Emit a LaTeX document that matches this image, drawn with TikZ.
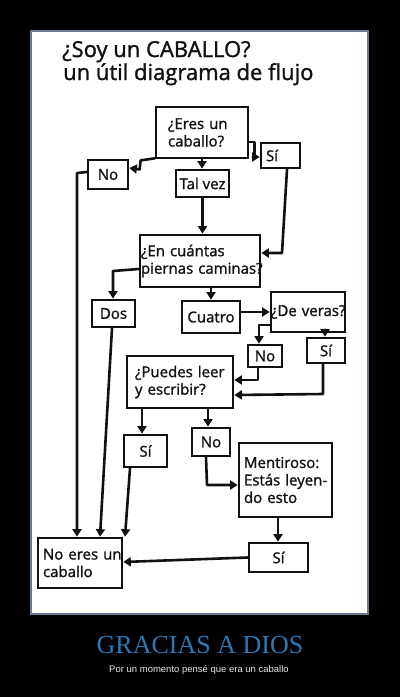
\documentclass[tikz,border=0pt]{standalone}
\usepackage{fontspec}
\setmainfont{Open Sans}
\newfontfamily\handfont[FakeBold=1.3]{Open Sans}
\newfontfamily\titlefont{Liberation Serif}
\newfontfamily\subfont{Liberation Sans}
\usetikzlibrary{arrows.meta,calc}
\definecolor{ink}{HTML}{111111}
\definecolor{framecol}{HTML}{6B7B93}
\definecolor{titleblue}{HTML}{2B78B5}
\definecolor{subgray}{HTML}{E6E6E6}
\begin{document}
\begin{tikzpicture}[x=1pt,y=-1pt,
  box/.style={draw=ink, line width=2.7pt, inner sep=0pt, font=\handfont\fontsize{15}{17.5}\selectfont, text=ink, align=center},
  lbox/.style={box, align=left},
  arr/.style={draw=ink, line width=2.6pt, line cap=round, line join=round, -{Triangle[length=7.5pt,width=9pt]}},
  ttl/.style={anchor=base west, inner sep=0pt, font=\handfont\fontsize{22}{24}\selectfont, text=ink}
]
\useasboundingbox (0,0) rectangle (400,697);
\fill[black] (0,0) rectangle (400,697);
\draw[framecol, fill=white, line width=1.2pt] (31,31) rectangle (368,614);

% titles
\node[ttl] (t1) at (62,57) {¿Soy un CABALLO?};
\node[ttl] (t2) at (63,80) {un útil diagrama de flujo};

% boxes
\node[lbox, minimum width=92pt, minimum height=51pt, text width=68pt] (eres) at (202,132.5) {¿Eres un\\caballo?};
\node[box, minimum width=40pt, minimum height=29pt] (no1) at (108,174.5) {No};
\node[lbox, minimum width=39pt, minimum height=25pt, text width=29pt] (si1) at (280.5,155.5) {Sí};
\node[box, minimum width=53pt, minimum height=27pt] (talvez) at (202.5,183.5) {Tal vez};
\node[lbox, minimum width=120pt, minimum height=52pt, text width=118pt] (cuantas) at (200,261) {¿En cuántas\\\mbox{piernas caminas?}};
\node[box, minimum width=43pt, minimum height=27pt] (dos) at (113.5,313.5) {Dos};
\node[box, minimum width=58pt, minimum height=32pt] (cuatro) at (211,317) {Cuatro};
\node[lbox, minimum width=74pt, minimum height=40pt, text width=74pt] (deveras) at (308,312) {\mbox{¿De veras?}};
\node[box, minimum width=34pt, minimum height=22pt] (no2) at (265,356) {No};
\node[box, minimum width=38pt, minimum height=25pt] (si2) at (326,350.5) {Sí};
\node[lbox, minimum width=106pt, minimum height=52pt, text width=90pt] (puedes) at (180,382) {\mbox{¿Puedes leer}\\\mbox{y escribir?}};
\node[box, minimum width=43pt, minimum height=32pt] (si3) at (145.5,451) {Sí};
\node[box, minimum width=38pt, minimum height=28pt] (no3) at (211,442) {No};
\node[lbox, minimum width=93pt, minimum height=74pt, text width=83pt] (mentiroso) at (285.5,480) {\mbox{Mentiroso:}\\\mbox{Estás leyen-}\\\mbox{do esto}};
\node[box, minimum width=59pt, minimum height=29pt] (si4) at (278.5,557.5) {Sí};
\node[lbox, minimum width=84pt, minimum height=50pt, text width=74pt] (noeres) at (80,563) {\mbox{No eres un}\\caballo};

% connectors
\draw[arr] ($(eres.south west)+(0,-1)$) -- ++(-14,2) -- ++(-1,9) -- (no1.east |- 0,168);
\draw[arr] (eres.east |- 0,142) -- ++(5,0) -- ++(0,15) -- (si1.west |- 0,157);
\draw[arr] (eres.south) -- (eres.south |- talvez.north);
\draw[arr] (talvez.south) -- (talvez.south |- cuantas.north);
\draw[arr] (no1.west |- 0,172) -- (77,173) -- (77,0 |- noeres.north);
\draw[arr] ($(si1.south)+(6.5,0)$) -- (282,253) -- (cuantas.east |- 0,253);
\draw[arr] (cuantas.west |- 0,269) -- (113,271) -- (113,0 |- dos.north);
\draw[arr] (cuatro.north |- cuantas.south) -- (cuatro.north);
\draw[arr] (cuatro.east |- 0,312) -- (deveras.west |- 0,312);
\draw[arr] (deveras.west |- 0,325) -- (259,325) -- (259,0 |- no2.north);
\draw[arr] (325,0 |- deveras.south) -- (325,0 |- si2.north);
\draw[arr] (258,0 |- no2.south) -- (258,380) -- (puedes.east |- 0,380);
\draw[arr] (323,0 |- si2.south) -- (323,394) -- (puedes.east |- 0,395);
\draw[arr] (142,0 |- puedes.south) -- (142,0 |- si3.north);
\draw[arr] (208,0 |- puedes.south) -- (208,0 |- no3.north);
\draw[arr] (206,0 |- no3.south) -- (207,485) -- (mentiroso.west |- 0,485);
\draw[arr] (278,0 |- mentiroso.south) -- (278,0 |- si4.north);
\draw[arr] (si4.west) -- (noeres.east |- 0,562);
\draw[arr] (112,0 |- dos.south) -- (100,0 |- noeres.north);
\draw[arr] (130,0 |- si3.south) -- (125,0 |- noeres.north);

% caption
\node[anchor=base, inner sep=0pt, font=\titlefont\fontsize{26}{30}\selectfont, text=titleblue] (gracias) at (200,653) {GRACIAS A DIOS};
\node[anchor=base, inner sep=0pt, font=\subfont\fontsize{9.5}{11}\selectfont, text=subgray] (sub) at (199,672) {Por un momento pensé que era un caballo};
\end{tikzpicture}
\end{document}
